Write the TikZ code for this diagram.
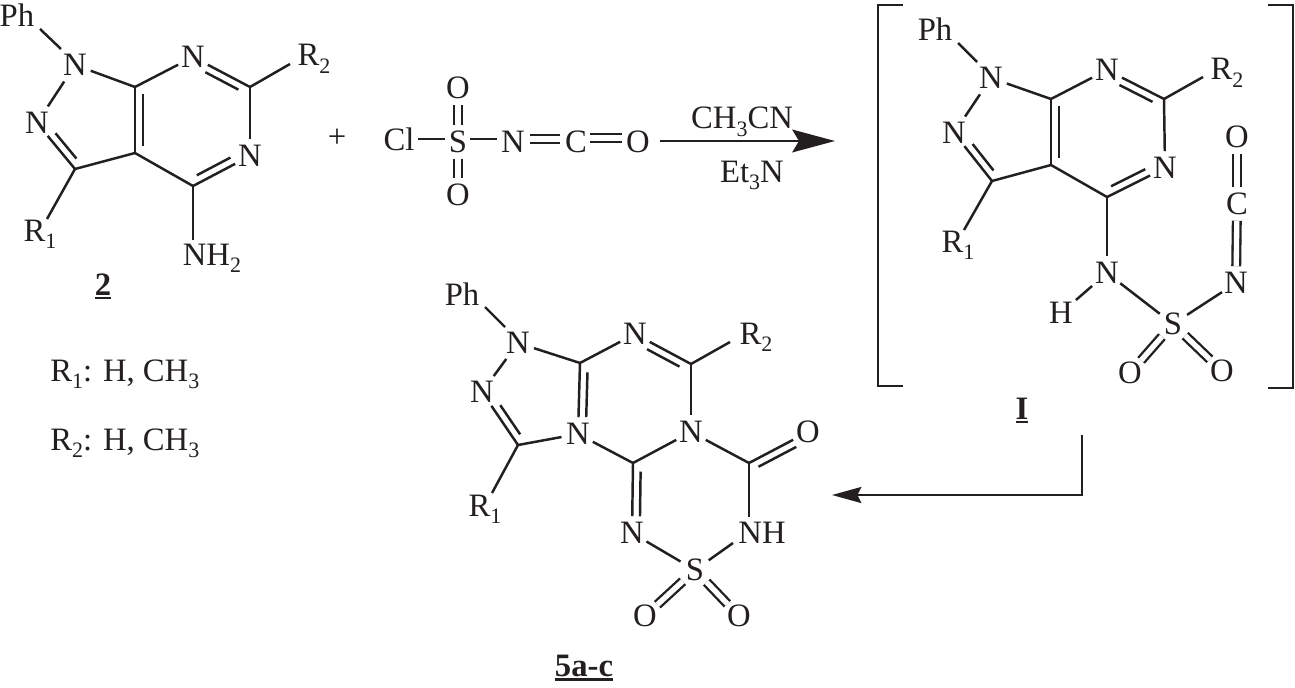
\documentclass[tikz,border=0pt]{standalone}
\usepackage{fontspec}
\setmainfont{Liberation Serif}
\usetikzlibrary{calc,arrows.meta}
\definecolor{ink}{HTML}{231F20}
\newcommand{\sbs}[1]{\raisebox{-0.24em}{\fontsize{16.5}{16.5}\selectfont #1}}
\newcommand{\ulbl}[1]{\vtop{\hbox{\bfseries #1}\kern1.6pt\hrule height 1.7pt}}
\newcommand{\dblbond}[5]{%
  \draw[bond] (#1) -- (#2);
  \draw[bond] ($(#1)!#4!(#2)!5.8pt!#3:(#2)$) -- ($(#1)!#5!(#2)!5.8pt!#3:(#2)$);}
\tikzset{
  x=0.75pt,y=-0.75pt,
  bond/.style={draw=ink,line width=1.85pt},
  far/.style={bond,shorten <=2.25pt,shorten >=2.25pt},
  sym/.style={draw=ink,line width=1.75pt,double=white,double distance=4pt},
  atom/.style={circle,inner sep=0pt,minimum size=24.75pt,text=ink,font=\fontsize{24.5}{29}\selectfont},
  lbl/.style={anchor=base,inner sep=0pt,text=ink,font=\fontsize{24.5}{29}\selectfont},
}
\begin{document}
\begin{tikzpicture}
\useasboundingbox[fill=white] (0,0) rectangle (1295,688);
% ---------- compound 2
\node[lbl] (aph) at (17,27) {Ph};
\node[atom] (an1) at (75,65) {N};
\node[atom] (an2) at (37,123) {N};
\coordinate (ac3) at (75,169);
\coordinate (ac3a) at (135,153);
\coordinate (ac7a) at (135,87);
\node[atom] (an7) at (193,57) {N};
\coordinate (ac6) at (250,87);
\node[atom] (an5) at (250,156) {N};
\coordinate (ac4) at (193,186);
\node[lbl] (ar2) at (314,66) {R\sbs{2}};
\node[lbl] (ar1) at (40,241) {R\sbs{1}};
\node[lbl] (anh) at (212,265) {NH\sbs{2}};
\coordinate (aphe) at (40,29);
\coordinate (aphn) at (61,49);
\coordinate (ar2e) at (290,64);
\coordinate (ar1e) at (47,219);
\coordinate (anhe) at (193,240);
\draw[bond] (aphe) -- (aphn);
\draw[far] (an1) -- (an2);
\draw[bond] (an1) -- (ac7a);
\dblbond{an2}{ac3}{90}{.33}{.88}
\draw[bond] (ac3) -- (ac3a);
\dblbond{ac7a}{ac3a}{90}{.1}{.9}
\draw[bond] (ac7a) -- (an7);
\dblbond{an7}{ac6}{-90}{.28}{.86}
\draw[bond] (ac6) -- (an5);
\dblbond{ac4}{an5}{90}{.13}{.72}
\draw[bond] (ac3a) -- (ac4);
\draw[bond] (ac6) -- (ar2e);
\draw[bond] (ac3) -- (ar1e);
\draw[bond] (ac4) -- (anhe);
\node[lbl] (alab) at (103,295) {\ulbl{2}};
\node[lbl] (plus) at (337,148) {+};
\node[lbl,anchor=base west] (t1) at (50,381) {R\sbs{1}: H, CH\sbs{3}};
\node[lbl,anchor=base west] (t2) at (50,450) {R\sbs{2}: H, CH\sbs{3}};
% ---------- reagent
\node[lbl] (rcl) at (399,151) {Cl};
\node[atom] (rs) at (458,142) {S};
\node[atom] (rot) at (458,88) {O};
\node[atom] (rob) at (458,195) {O};
\node[atom] (rn) at (513,142) {N};
\node[atom] (rc) at (576,142) {C};
\node[atom] (ro) at (638,142) {O};
\coordinate (rcle) at (418,139);
\coordinate (rsl) at (445,139);
\coordinate (rsr) at (470,139);
\coordinate (rnl) at (497,139);
\coordinate (rnr) at (530,139);
\coordinate (rcl2) at (560,139);
\coordinate (rcr) at (590,138);
\coordinate (rol) at (622,138);
\draw[sym] (rs) -- (rot);
\draw[sym] (rs) -- (rob);
\draw[bond] (rcle) -- (rsl);
\draw[bond] (rsr) -- (rnl);
\draw[sym] (rnr) -- (rcl2);
\draw[sym] (rcr) -- (rol);
\coordinate (as) at (660,141);
\coordinate (ae) at (835,141);
\draw[draw=ink,line width=2.1pt,-{Stealth[length=32pt,width=17pt,inset=5pt,color=ink]}] (as) -- (ae);
\node[lbl] (rcond1) at (742,129) {CH\sbs{3}CN};
\node[lbl] (rcond2) at (752,182) {Et\sbs{3}N};
% ---------- intermediate I
\node[lbl] (bph) at (935,41) {Ph};
\node[atom] (bn1) at (991,78) {N};
\node[atom] (bn2) at (954,133) {N};
\coordinate (bc3) at (992,181);
\coordinate (bc3a) at (1051,165);
\coordinate (bc7a) at (1051,99);
\node[atom] (bn7) at (1107,70) {N};
\coordinate (bc6) at (1164,99);
\node[atom] (bn5) at (1165,168) {N};
\coordinate (bc4) at (1107,197);
\node[lbl] (br2) at (1227,80) {R\sbs{2}};
\node[lbl] (br1) at (958,252) {R\sbs{1}};
\node[atom] (bnh) at (1107,273) {N};
\node[atom] (bh) at (1061,313) {H};
\node[atom] (bs) at (1173,324) {S};
\node[atom] (bol) at (1130,373) {O};
\node[atom] (bor) at (1222,371) {O};
\node[atom] (bnp) at (1236,283) {N};
\node[atom] (bcp) at (1237,204) {C};
\node[atom] (bop) at (1237,137) {O};
\coordinate (bphe) at (958,43);
\coordinate (bphn) at (977,62);
\coordinate (br2e) at (1203,77);
\coordinate (br1e) at (964,230);
\draw[bond] (bphe) -- (bphn);
\draw[far] (bn1) -- (bn2);
\draw[bond] (bn1) -- (bc7a);
\dblbond{bn2}{bc3}{90}{.33}{.88}
\draw[bond] (bc3) -- (bc3a);
\dblbond{bc7a}{bc3a}{90}{.1}{.9}
\draw[bond] (bc7a) -- (bn7);
\dblbond{bn7}{bc6}{-90}{.28}{.86}
\draw[bond] (bc6) -- (bn5);
\dblbond{bc4}{bn5}{90}{.13}{.72}
\draw[bond] (bc3a) -- (bc4);
\draw[bond] (bc6) -- (br2e);
\draw[bond] (bc3) -- (br1e);
\draw[bond] (bc4) -- (bnh);
\draw[far] (bnh) -- (bh);
\draw[bond] (bnh) -- (bs);
\draw[bond] (bs) -- (bnp);
\draw[sym] (bs) -- (bol);
\draw[sym] (bs) -- (bor);
\draw[sym] (bnp) -- (bcp);
\draw[sym] (bcp) -- (bop);
\node[lbl] (blab) at (1022,419) {\ulbl{I}};
\coordinate (blt1) at (903,5);
\coordinate (blt2) at (878,5);
\coordinate (blb2) at (878,386);
\coordinate (blb1) at (903,386);
\coordinate (brt1) at (1268,5);
\coordinate (brt2) at (1293,5);
\coordinate (brb2) at (1293,388);
\coordinate (brb1) at (1268,388);
\draw[draw=ink,line width=1.85pt] (blt1) -- (blt2) -- (blb2) -- (blb1);
\draw[draw=ink,line width=1.85pt] (brt1) -- (brt2) -- (brb2) -- (brb1);
% ---------- arrow to product
\coordinate (d1) at (1082,435);
\coordinate (d2) at (1082,495);
\coordinate (d3) at (832,495);
\draw[draw=ink,line width=1.85pt,-{Stealth[length=22pt,width=12pt,inset=3pt,color=ink]}] (d1) -- (d2) -- (d3);
% ---------- product 5a-c
\node[lbl] (cph) at (462,305) {Ph};
\node[atom] (cn1) at (518,343) {N};
\node[atom] (cn2) at (482,392) {N};
\coordinate (cc3) at (518,445);
\node[atom] (cn4) at (578,434) {N};
\coordinate (cc8) at (580,363);
\node[atom] (cn8) at (635,334) {N};
\coordinate (cc6) at (691,364);
\node[atom] (cn5) at (691,432) {N};
\coordinate (cc9) at (633,463);
\coordinate (cco) at (749,463);
\node[atom] (co) at (808,432) {O};
\node[atom] (cnb) at (632,533) {N};
\node[lbl] (cnh) at (762,543) {NH};
\node[atom] (cs) at (695,570) {S};
\node[atom] (col) at (645,616) {O};
\node[atom] (cor) at (739,616) {O};
\node[lbl] (cr2) at (756,344) {R\sbs{2}};
\node[lbl] (cr1) at (485,516) {R\sbs{1}};
\coordinate (cphe) at (485,307);
\coordinate (cphn) at (505,327);
\coordinate (cr2e) at (730,342);
\coordinate (cr1e) at (492,493);
\coordinate (cnht) at (749,517);
\coordinate (cnhs) at (733,543);
\draw[bond] (cphe) -- (cphn);
\draw[far] (cn1) -- (cn2);
\draw[bond] (cn1) -- (cc8);
\dblbond{cn2}{cc3}{90}{.33}{.88}
\draw[bond] (cc3) -- (cn4);
\dblbond{cc8}{cn4}{90}{.13}{.76}
\draw[bond] (cc8) -- (cn8);
\dblbond{cn8}{cc6}{-90}{.28}{.86}
\draw[bond] (cc6) -- (cn5);
\draw[bond] (cn4) -- (cc9);
\draw[bond] (cc9) -- (cn5);
\draw[bond] (cn5) -- (cco);
\dblbond{cco}{co}{-90}{.1}{.74}
\draw[bond] (cc6) -- (cr2e);
\draw[bond] (cc3) -- (cr1e);
\dblbond{cc9}{cnb}{90}{.12}{.76}
\draw[bond] (cco) -- (cnht);
\draw[bond] (cnb) -- (cs);
\draw[bond] (cs) -- (cnhs);
\draw[sym] (cs) -- (col);
\draw[sym] (cs) -- (cor);
\node[lbl] (clab) at (584,676) {\ulbl{5a-c}};
\end{tikzpicture}
\end{document}
